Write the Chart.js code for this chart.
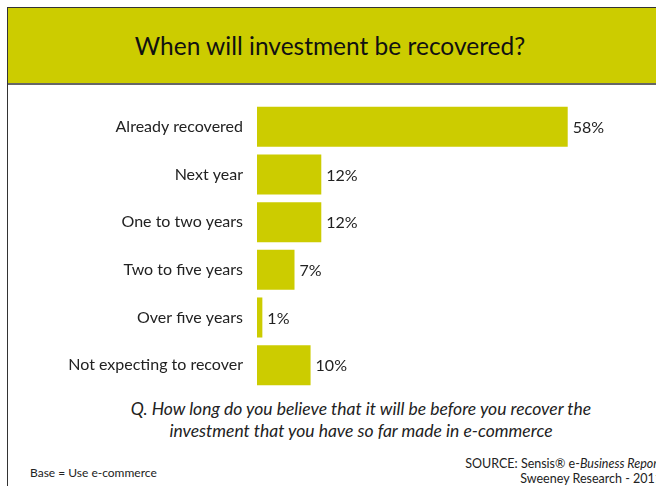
<!DOCTYPE html>
<html>
<head>
<meta charset="utf-8">
<script src="https://cdn.jsdelivr.net/npm/chart.js@4.4.0/dist/chart.umd.min.js"></script>
<style>
  html, body { margin: 0; padding: 0; background: #fff; }
  body { width: 656px; height: 486px; position: relative; overflow: hidden; font-family: Lato, "Open Sans", sans-serif; color: #222; }
  #frame { position: absolute; left: 7px; top: 7px; width: 700px; height: 520px; border-left: 1px solid #333; border-top: 1px solid #333; }
  #band { position: absolute; left: 8px; top: 8px; width: 660px; height: 75px; background: #cccc00; border-bottom: 2px solid #666; }
  #title { position: absolute; left: 0; top: 23px; width: 644px; text-align: center; font-size: 24.5px; color: #111; }
  #chartBox { position: absolute; left: 0; top: 90px; width: 656px; height: 305px; }
  #question { position: absolute; left: 60px; width: 602px; top: 398px; text-align: center; font-style: italic; font-size: 17.5px; line-height: 22px; color: #222; }
  #base { position: absolute; left: 30px; top: 465px; font-size: 12px; color: #222; }
  #source { position: absolute; right: -6px; top: 456px; text-align: right; font-size: 12.5px; line-height: 15px; color: #222; }
</style>
</head>
<body>
<div id="frame"></div>
<div id="band"><div id="title">When will investment be recovered?</div></div>
<div id="chartBox"><canvas id="chart"></canvas></div>
<div id="question">Q. How long do you believe that it will be before you recover the<br>investment that you have so far made in e-commerce</div>
<div id="base">Base = Use e-commerce</div>
<div id="source">SOURCE: Sensis® e-<i>Business Report</i><br>Sweeney Research - 2011</div>
<script>
const categories = ["Already recovered", "Next year", "One to two years", "Two to five years", "Over five years", "Not expecting to recover"]
const percentValues = [58, 12, 12, 7, 1, 10]

const barColor = "#cccc00"
const labelFont = "Lato, 'Open Sans', sans-serif"

// Draws the "58%" style labels at the end of each bar
const valueLabels = {
  id: "valueLabels",
  afterDatasetsDraw(chart) {
    const ctx = chart.ctx
    const meta = chart.getDatasetMeta(0)
    ctx.save()
    ctx.font = "16px " + labelFont
    ctx.fillStyle = "#222"
    ctx.textAlign = "left"
    ctx.textBaseline = "middle"
    meta.data.forEach((bar, i) => {
      ctx.fillText(percentValues[i] + "%", bar.x + 5, bar.y + 1)
    })
    ctx.restore()
  },
}

new Chart(document.getElementById("chart"), {
  type: "bar",
  data: {
    labels: categories,
    datasets: [{
      data: percentValues,
      backgroundColor: barColor,
      borderWidth: 0,
      barPercentage: 0.84,
      categoryPercentage: 1,
    }],
  },
  options: {
    indexAxis: "y",
    responsive: true,
    maintainAspectRatio: false,
    animation: false,
    layout: { padding: { top: 13, bottom: 6, left: 0, right: 24 } },
    plugins: { legend: { display: false }, tooltip: { enabled: false } },
    scales: {
      x: { display: false, min: 0, max: 70 },
      y: {
        grid: { display: false, drawTicks: false },
        border: { display: false },
        ticks: { color: "#222", padding: 14, font: { size: 16, family: labelFont } },
        afterFit(scale) {
          scale.width = 257
          scale.paddingTop = 0
          scale.paddingBottom = 0
        },
      },
    },
  },
  plugins: [valueLabels],
})
</script>
</body>
</html>
